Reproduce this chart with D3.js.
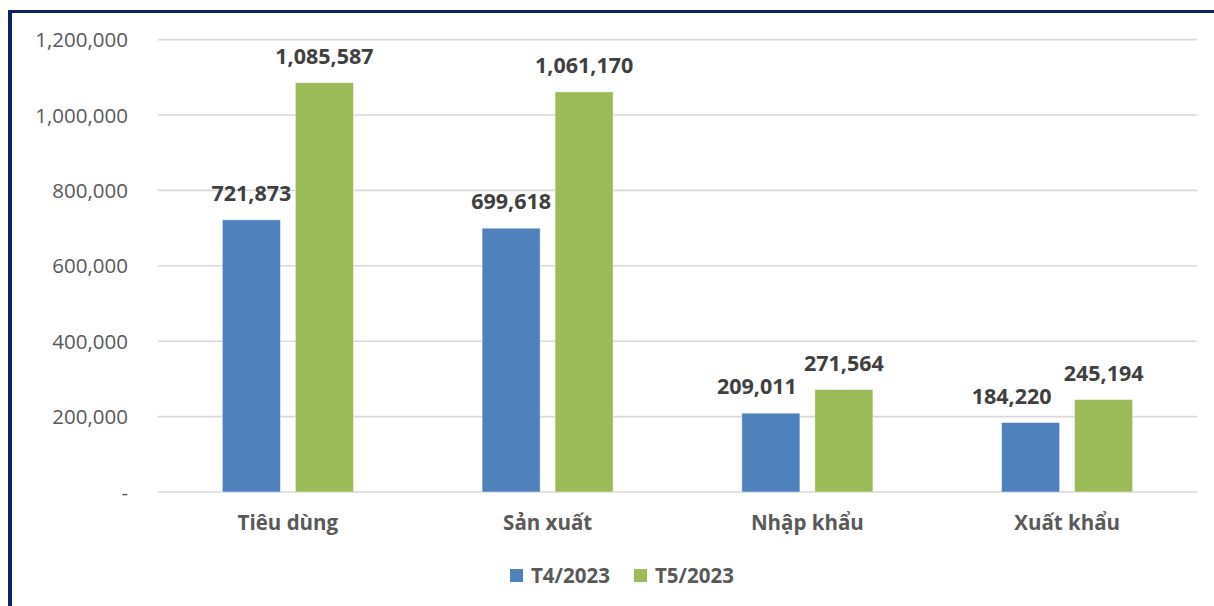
<!DOCTYPE html>
<html><head><meta charset="utf-8">
<script src="https://cdn.jsdelivr.net/npm/d3@7"></script>
<style>body{margin:0;background:#fff}svg{display:block}</style>
</head><body><svg id="c" width="1214" height="606"></svg>
<script>
const categories = ["Tiêu dùng", "Sản xuất", "Nhập khẩu", "Xuất khẩu"];
const seriesNames = ["T4/2023", "T5/2023"];
const t4Values = [721873, 699618, 209011, 184220];
const t5Values = [1085587, 1061170, 271564, 245194];
const yTicks = [0, 200000, 400000, 600000, 800000, 1000000, 1200000];
const colors = ["#4F81BD", "#9BBB59"];

const svg = d3.select("#c");
const W = 1214, H = 606;
const font = "'Open Sans', sans-serif";
const m = {left: 158, right: 1197, top: 39.6, bottom: 492};

// frame
svg.append("rect").attr("x", 8).attr("y", 10).attr("width", W).attr("height", 3).attr("fill", "#0B2466");
svg.append("rect").attr("x", 8).attr("y", 10).attr("width", 4).attr("height", H).attr("fill", "#0B2466");

const x = d3.scaleBand().domain(categories).range([m.left, m.right]);
const y = d3.scaleLinear().domain([0, 1200000]).range([m.bottom, m.top]);
const series = [t4Values, t5Values];
const barW = 58, gap = 15;
const xs = d3.scaleBand().domain(seriesNames)
  .range([-(barW + gap / 2), barW + gap / 2]).paddingInner(gap / (barW + gap));

// gridlines
svg.append("g").selectAll("line").data(yTicks).join("line")
  .attr("x1", m.left).attr("x2", m.right)
  .attr("y1", d => y(d)).attr("y2", d => y(d))
  .attr("stroke", "#D9D9D9").attr("stroke-width", 1.6);

// y axis labels
const yAxis = d3.axisLeft(y).tickValues(yTicks).tickSize(0)
  .tickFormat(d => d === 0 ? "-" : d3.format(",")(d));
const ya = svg.append("g").attr("transform", `translate(${m.left - 27},0)`).call(yAxis);
ya.select(".domain").remove();
ya.selectAll("text").attr("font-family", font).attr("font-size", 20.5).attr("fill", "#595959").attr("dx", 0).attr("dy", "0.35em");

// x axis labels
const xAxis = d3.axisBottom(x).tickSize(0);
const xa = svg.append("g").attr("transform", `translate(0,${m.bottom})`).call(xAxis);
xa.select(".domain").remove();
xa.selectAll("text").attr("font-family", font).attr("font-size", 20.5).attr("font-weight", "bold")
  .attr("fill", "#595959").attr("y", 38).attr("dy", 0);

// bars
const labelNudge = [[0, 0], [0, 0], [-14, 0], [-19, 0]];
series.forEach((vals, si) => {
  const g = svg.append("g");
  g.selectAll("rect").data(vals).join("rect")
    .attr("x", (d, i) => x(categories[i]) + x.bandwidth() / 2 + xs(seriesNames[si]))
    .attr("width", xs.bandwidth())
    .attr("y", d => y(d)).attr("height", d => y(0) - y(d))
    .attr("fill", colors[si]).attr("stroke", "rgba(255,255,255,0.5)").attr("stroke-width", 0.8);
  g.selectAll("text").data(vals).join("text")
    .attr("x", (d, i) => x(categories[i]) + x.bandwidth() / 2 + xs(seriesNames[si]) + xs.bandwidth() / 2 + (si === 0 ? labelNudge[i][0] : 0))
    .attr("y", d => y(d) - 19)
    .attr("text-anchor", "middle")
    .attr("font-family", font).attr("font-size", 21.5).attr("font-weight", "bold").attr("fill", "#404040")
    .text(d => d3.format(",")(d));
});

// legend
const lg = svg.append("g");
const legendX = [510, 634];
seriesNames.forEach((n, i) => {
  lg.append("rect").attr("x", legendX[i]).attr("y", 569).attr("width", 13).attr("height", 13).attr("fill", colors[i]);
  lg.append("text").attr("x", legendX[i] + 21).attr("y", 583)
    .attr("font-family", font).attr("font-size", 20.5).attr("font-weight", "bold").attr("fill", "#595959").text(n);
});
</script></body></html>
